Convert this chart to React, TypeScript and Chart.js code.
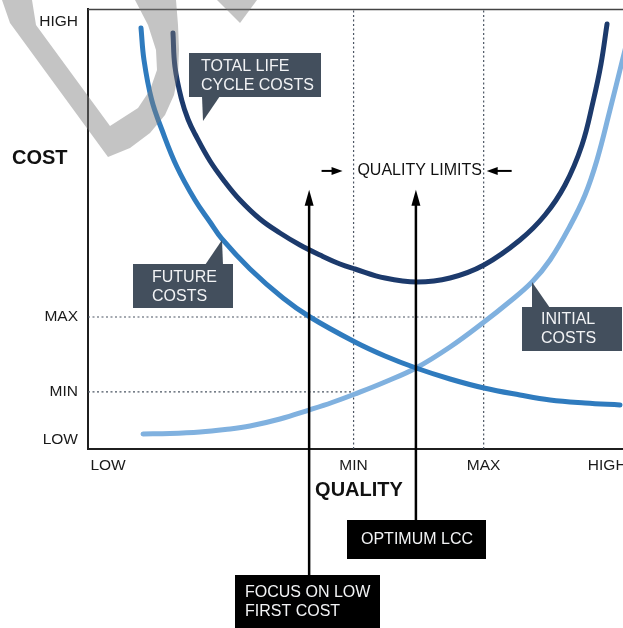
import React, { useEffect, useRef } from 'react';
import { Chart, registerables } from 'chart.js';

Chart.register(...registerables);

// ---- tick labels ----
const X_TICK_VALUES = [3.7, 49, 73, 95.8];
const X_TICK_LABELS = ['LOW', 'MIN', 'MAX', 'HIGH'];
const Y_TICK_VALUES = [2, 13, 30, 97];
const Y_TICK_LABELS = ['LOW', 'MIN', 'MAX', 'HIGH'];

// ---- quality / cost limits ----
const QUALITY_MIN = 49;
const QUALITY_MAX = 73;
const COST_MIN = 13;
const COST_MAX = 30;

// ---- series (x = quality, y = cost) ----
const FUTURE_X = [9.78, 10.33, 11.75, 13.65, 16.42, 19.74, 22.51, 24.72, 29.89, 35.98, 40.96, 49.26, 54.8, 60.52, 66.79, 73.06, 79.7, 85.24, 91.7, 98.15];
const FUTURE_Y = [95.68, 88.41, 79.32, 72.5, 64.09, 56.59, 51.59, 47.73, 40.91, 34.32, 30.0, 24.32, 21.14, 18.41, 15.91, 13.86, 12.27, 11.14, 10.45, 10.0];

const TOTAL_X = [15.68, 16.05, 17.29, 18.45, 19.74, 22.51, 25.28, 28.04, 31.73, 35.42, 39.11, 42.8, 46.49, 49.26, 54.8, 60.7, 66.79, 73.06, 79.7, 84.32, 88.01, 91.14, 93.17, 94.65, 95.76];
const TOTAL_Y = [94.55, 86.82, 79.32, 74.95, 71.59, 65.45, 60.68, 56.59, 52.27, 49.09, 46.36, 44.09, 42.05, 40.91, 38.86, 37.95, 38.86, 41.82, 47.5, 53.18, 60.0, 69.09, 78.86, 87.5, 96.59];

const INITIAL_X = [10.15, 15.13, 20.66, 25.28, 29.89, 35.42, 40.77, 45.02, 49.26, 54.8, 60.52, 66.79, 73.06, 77.49, 81.92, 85.24, 88.93, 91.7, 93.91, 96.31, 98.52, 100];
const INITIAL_Y = [3.41, 3.52, 3.86, 4.43, 5.23, 6.82, 8.86, 10.57, 12.5, 15.23, 18.41, 23.18, 28.86, 33.18, 37.95, 42.95, 50.68, 57.73, 65.68, 77.05, 87.95, 95.23];

// ---- annotation anchors ----
const FOCUS_X = 40.8;
const OPTIMUM_X = 60.5;
const ARROW_TIP_Y = 58.9;
const COST_LABEL_Y = 66;
const LIMITS_LABEL_Y = 63.2;

const FONT = '"Liberation Sans", Arial, Helvetica, sans-serif';

const zip = (xs: number[], ys: number[]) => xs.map((x, i) => ({ x, y: ys[i] }));

const decorPlugin = {
  id: 'decor',
  afterDraw(chart: any) {
    const ctx: CanvasRenderingContext2D = chart.ctx;
    const xs = chart.scales.x;
    const ys = chart.scales.y;
    const ca = chart.chartArea;
    ctx.save();

    // top frame line
    ctx.strokeStyle = '#444';
    ctx.lineWidth = 1.5;
    ctx.beginPath();
    ctx.moveTo(ca.left, ca.top + 0.5);
    ctx.lineTo(ca.right, ca.top + 0.5);
    ctx.stroke();

    // COST label
    ctx.fillStyle = '#111';
    ctx.font = `bold 20px ${FONT}`;
    ctx.textAlign = 'left';
    ctx.textBaseline = 'middle';
    ctx.fillText('COST', 12, ys.getPixelForValue(COST_LABEL_Y));

    // QUALITY LIMITS label + arrows
    const ly = ys.getPixelForValue(LIMITS_LABEL_Y);
    const xMin = xs.getPixelForValue(QUALITY_MIN);
    const xMax = xs.getPixelForValue(QUALITY_MAX);
    ctx.font = `16px ${FONT}`;
    ctx.textAlign = 'center';
    ctx.fillStyle = '#111';
    ctx.fillText('QUALITY LIMITS', (xMin + xMax) / 2 + 1, ly);

    ctx.strokeStyle = '#000';
    ctx.fillStyle = '#000';
    ctx.lineWidth = 2;
    const hArrow = (tail: number, tip: number) => {
      const dir = Math.sign(tip - tail);
      ctx.beginPath();
      ctx.moveTo(tail, ly);
      ctx.lineTo(tip - dir * 6, ly);
      ctx.stroke();
      ctx.beginPath();
      ctx.moveTo(tip, ly);
      ctx.lineTo(tip - dir * 11, ly - 4);
      ctx.lineTo(tip - dir * 11, ly + 4);
      ctx.closePath();
      ctx.fill();
    };
    hArrow(xMin - 32, xMin - 11);
    hArrow(xMax + 28, xMax + 3);

    // vertical arrows
    const tipY = ys.getPixelForValue(ARROW_TIP_Y);
    const vArrow = (x: number, bottom: number) => {
      ctx.lineWidth = 2.5;
      ctx.beginPath();
      ctx.moveTo(x, tipY + 10);
      ctx.lineTo(x, bottom);
      ctx.stroke();
      ctx.beginPath();
      ctx.moveTo(x, tipY);
      ctx.lineTo(x - 4.5, tipY + 16);
      ctx.lineTo(x + 4.5, tipY + 16);
      ctx.closePath();
      ctx.fill();
    };
    const fx = xs.getPixelForValue(FOCUS_X);
    const ox = xs.getPixelForValue(OPTIMUM_X);
    vArrow(fx, 576);
    vArrow(ox, 521);

    // callouts
    const slate = '#434f5d';
    const callout = (
      rect: [number, number, number, number],
      tri: [number, number][],
      fill: string,
      lines: string[],
      tx: number,
      ty: number[]
    ) => {
      ctx.fillStyle = fill;
      ctx.fillRect(rect[0], rect[1], rect[2], rect[3]);
      if (tri.length) {
        ctx.beginPath();
        ctx.moveTo(tri[0][0], tri[0][1]);
        ctx.lineTo(tri[1][0], tri[1][1]);
        ctx.lineTo(tri[2][0], tri[2][1]);
        ctx.closePath();
        ctx.fill();
      }
      ctx.fillStyle = '#f2f3f5';
      ctx.font = `16px ${FONT}`;
      ctx.textAlign = 'left';
      ctx.textBaseline = 'middle';
      lines.forEach((l, i) => ctx.fillText(l, tx, ty[i]));
    };
    callout([189, 53, 132, 44], [[202, 96], [220, 96], [203, 121]], slate, ['TOTAL LIFE', 'CYCLE COSTS'], 201, [67, 86]);
    callout([133, 264, 100, 44], [[205, 265], [223, 265], [222, 240]], slate, ['FUTURE', 'COSTS'], 152, [278, 297]);
    callout([522, 307, 100, 44], [[532, 308], [550, 308], [532, 282]], slate, ['INITIAL', 'COSTS'], 541, [320, 339]);
    callout([347, 520, 139, 39], [], '#000', ['OPTIMUM LCC'], 361, [540]);
    callout([235, 575, 145, 60], [], '#000', ['FOCUS ON LOW', 'FIRST COST'], 245, [593, 612]);

    // watermark
    const outer: [number, number][] = [
      [108, 157], [130, 148], [150, 133], [165, 115], [174, 95], [178, 75], [179, 50], [178, 25], [176, 0],
    ];
    const inner: [number, number][] = [
      [135, 0], [148, 25], [156, 50], [157, 70], [150, 90], [138, 108], [110, 126],
    ];
    ctx.fillStyle = 'rgba(125,125,125,0.45)';
    ctx.beginPath();
    ctx.moveTo(2, 0);
    ctx.lineTo(10, 23);
    outer.forEach(([x, y]) => ctx.lineTo(x, y));
    inner.forEach(([x, y]) => ctx.lineTo(x, y));
    ctx.lineTo(36, 25);
    ctx.lineTo(32, 0);
    ctx.closePath();
    ctx.fill();
    ctx.beginPath();
    ctx.moveTo(217, 0);
    ctx.lineTo(257, 0);
    ctx.lineTo(240, 23);
    ctx.closePath();
    ctx.fill();

    ctx.restore();
  },
};

export default function App() {
  const ref = useRef<HTMLCanvasElement | null>(null);

  useEffect(() => {
    if (!ref.current) return;
    Chart.defaults.font.family = FONT;
    const curve = (label: string, data: any[], color: string) => ({
      label,
      data,
      borderColor: color,
      borderWidth: 5,
      borderCapStyle: 'round',
      borderJoinStyle: 'round',
      tension: 0.4,
      pointRadius: 0,
      fill: false,
      order: 0,
    });
    const guide = (label: string, data: any[]) => ({
      label,
      data,
      borderColor: '#4b5563',
      borderWidth: 1.2,
      borderDash: [2, 2.5],
      pointRadius: 0,
      fill: false,
      tension: 0,
      order: 5,
    });
    const chart = new Chart(ref.current, {
      type: 'line',
      data: {
        datasets: [
          curve('Total life cycle costs', zip(TOTAL_X, TOTAL_Y), '#1c3a6c'),
          curve('Future costs', zip(FUTURE_X, FUTURE_Y), '#2f7bbe'),
          curve('Initial costs', zip(INITIAL_X, INITIAL_Y), '#80b1df'),
          guide('Cost max', [{ x: 0, y: COST_MAX }, { x: QUALITY_MAX, y: COST_MAX }]),
          guide('Cost min', [{ x: 0, y: COST_MIN }, { x: QUALITY_MIN, y: COST_MIN }]),
          guide('Quality min', [{ x: QUALITY_MIN, y: 0 }, { x: QUALITY_MIN, y: 100 }]),
          guide('Quality max', [{ x: QUALITY_MAX, y: 0 }, { x: QUALITY_MAX, y: 100 }]),
        ] as any,
      },
      options: {
        responsive: false,
        animation: false,
        layout: { padding: { top: 9, left: 0, right: 0, bottom: 0 } },
        plugins: { legend: { display: false }, tooltip: { enabled: false } },
        elements: { point: { radius: 0 } },
        scales: {
          x: {
            type: 'linear',
            position: 'bottom',
            min: 0,
            max: 100,
            grid: { display: false, drawTicks: false },
            border: { display: true, color: '#1f1f1f', width: 2 },
            ticks: {
              padding: 7,
              color: '#1a1a1a',
              font: { size: 15.5 },
              autoSkip: false,
              maxRotation: 0,
              callback: (v: any) => {
                const i = X_TICK_VALUES.indexOf(Number(v));
                return i >= 0 ? X_TICK_LABELS[i] : '';
              },
            },
            title: {
              display: true,
              text: 'QUALITY',
              color: '#111',
              font: { size: 20, weight: 'bold' },
              padding: { top: 0, bottom: 126 },
            },
            afterBuildTicks: (s: any) => {
              s.ticks = X_TICK_VALUES.map((v) => ({ value: v }));
            },
            afterFit: (s: any) => {
              s.height = 179;
              s.paddingLeft = 0;
              s.paddingRight = 0;
            },
          },
          y: {
            type: 'linear',
            min: 0,
            max: 100,
            grid: { display: false, drawTicks: false },
            border: { display: true, color: '#1f1f1f', width: 2 },
            ticks: {
              padding: 10,
              color: '#1a1a1a',
              font: { size: 15.5 },
              autoSkip: false,
              callback: (v: any) => {
                const i = Y_TICK_VALUES.indexOf(Number(v));
                return i >= 0 ? Y_TICK_LABELS[i] : '';
              },
            },
            afterBuildTicks: (s: any) => {
              s.ticks = Y_TICK_VALUES.map((v) => ({ value: v }));
            },
            afterFit: (s: any) => {
              s.width = 88;
              s.paddingTop = 0;
              s.paddingBottom = 0;
            },
          },
        },
      } as any,
      plugins: [decorPlugin],
    });
    return () => chart.destroy();
  }, []);

  return (
    <div style={{ position: 'fixed', left: 0, top: 0, width: 630, height: 628, overflow: 'hidden', background: '#fff' }}>
      <canvas ref={ref} width={630} height={628} style={{ display: 'block' }} />
    </div>
  );
}
